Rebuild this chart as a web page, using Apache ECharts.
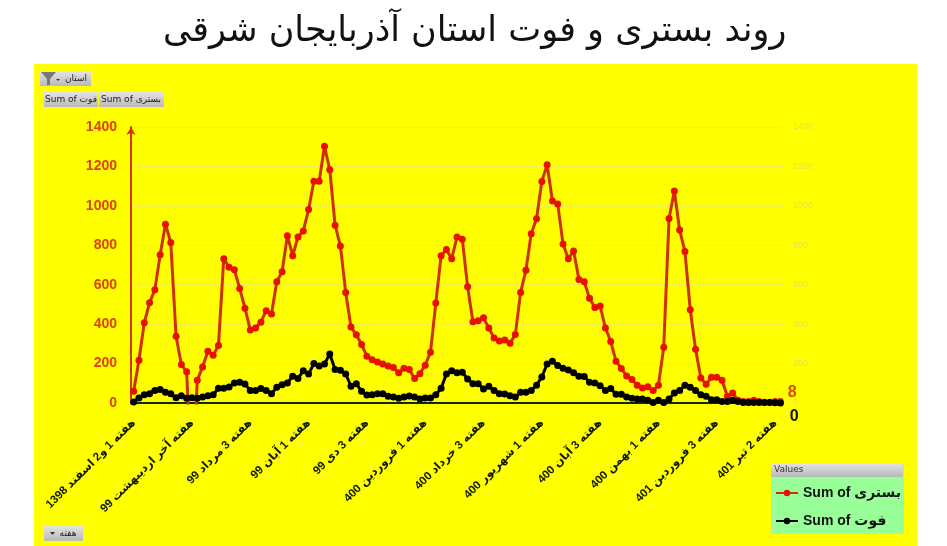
<!DOCTYPE html>
<html><head><meta charset="utf-8">
<style>html,body{margin:0;padding:0;background:#fff}#c{width:947px;height:546px}</style>
<script src="https://cdn.jsdelivr.net/npm/echarts@6/dist/echarts.min.js"></script>
</head><body><div id="c"></div>
<script>
const tickLabels = ["هفته 1 و2 اسفند 1398","هفته آخر اردیبهشت 99","هفته 3 مرداد 99","هفته 1 آبان 99","هفته 3 دی 99","هفته 1 فروردین 400","هفته 3 خرداد 400","هفته 1 شهریور 400","هفته 3 آبان 400","هفته 1 بهمن 400","هفته 3 فروردین 401","هفته 2 تیر 401"];
const hospitalized = [60,217,407,508,575,752,907,814,339,195,158,-450,115,183,263,242,292,732,688,676,581,481,370,381,410,468,451,615,666,849,747,842,873,981,1125,1125,1302,1183,902,797,561,385,346,297,237,220,208,198,188,180,153,176,170,124,149,192,258,507,747,778,732,842,831,590,412,417,432,380,330,315,319,303,347,561,673,859,934,1124,1209,1025,1009,807,732,771,627,615,531,485,492,381,312,212,175,137,119,90,76,83,63,90,283,936,1075,878,768,473,273,127,95,130,130,115,34,51,14,7,7,14,7,4,4,7,8];
const deaths = [5,25,42,47,64,68,54,47,27,37,24,27,24,30,37,42,75,75,81,102,105,97,63,63,73,64,47,80,93,102,136,124,164,147,200,188,198,249,170,166,147,85,98,59,41,42,47,47,34,30,24,30,36,30,20,25,25,42,75,147,163,154,156,122,98,98,71,85,63,47,46,37,30,54,54,64,90,132,198,212,190,176,168,153,136,134,105,102,88,64,73,44,44,30,24,20,20,14,3,14,3,20,51,63,90,80,64,42,34,17,17,8,8,14,8,3,3,3,2,2,2,1,0];
const yTicks = {min:0,max:1400,step:200};
const labelEvery = 11;
const seriesNames = ["Sum of بستری","Sum of فوت"];
const titleText = "روند بستری و فوت استان آذربایجان شرقی";

const categories = hospitalized.map((_,i)=> i%labelEvery===0 ? tickLabels[i/labelEvery] : "");
const FF = '"Liberation Sans","DejaVu Sans",sans-serif';
const endLabel = (arr,color,offset)=>arr.map((v,i)=> i===arr.length-1 ? {value:v,label:{show:true,position:'right',offset,color,fontSize:16,fontWeight:'bold',fontFamily:FF}} : v);
const grad = {type:'linear',x:0,y:0,x2:0,y2:1,colorStops:[{offset:0,color:'#E4E4E4'},{offset:1,color:'#B8B8B8'}]};
const btn = (x,y,w,h,text,tx)=>[
  {type:'rect',z:-1,shape:{x,y,width:w,height:h},style:{fill:grad}},
  {type:'text',z:5,style:{x:tx,y:y+h/2,text,fill:'#222',font:'9px "DejaVu Sans"',align:'center',verticalAlign:'middle'}}
];
const plain = v=>String(v);
const chart = echarts.init(document.getElementById('c'),null,{renderer:'canvas'});
chart.setOption({
  animation:false,
  backgroundColor:'#fff',
  title:{text:titleText,left:163,top:14,padding:0,textStyle:{fontFamily:'"DejaVu Sans"',fontWeight:'normal',fontSize:35,color:'#111'}},
  grid:{left:131,top:127,width:652,height:276,containLabel:false},
  legend:{show:true,orient:'vertical',left:775,top:486,padding:0,itemGap:14,itemWidth:22,itemHeight:8,
    data:seriesNames,textStyle:{fontFamily:FF,fontWeight:'bold',fontSize:14,color:'#111'}},
  xAxis:{type:'category',data:categories,boundaryGap:true,
    axisLine:{onZero:false,lineStyle:{color:'#0c2a10',width:2}},axisTick:{show:false},splitLine:{show:false},
    axisLabel:{interval:labelEvery-1,rotate:45,margin:18,fontFamily:FF,fontWeight:'bold',fontSize:11.5,color:'#111a00'}},
  yAxis:[
    {type:'value',min:yTicks.min,max:yTicks.max,interval:yTicks.step,
     axisLine:{show:true,symbol:['none','arrow'],symbolSize:[7,8],lineStyle:{color:'#D03800',width:2}},axisTick:{show:false},
     splitLine:{lineStyle:{color:'#EFEF4A',width:1}},
     axisLabel:{margin:14,formatter:plain,fontFamily:FF,fontWeight:'bold',fontSize:14,color:'#E04000'}},
    {type:'value',min:yTicks.min,max:yTicks.max,interval:yTicks.step,position:'right',
     axisLine:{show:false},axisTick:{show:false},splitLine:{show:false},
     axisLabel:{margin:10,formatter:plain,fontFamily:FF,fontSize:9,color:'#E6E04A'}}
  ],
  series:[
    {name:seriesNames[0],type:'line',yAxisIndex:0,clip:true,showAllSymbol:true,data:endLabel(hospitalized,'#D84A00',[-1,-9]),symbol:'circle',symbolSize:7,
     lineStyle:{color:'#D03000',width:3},itemStyle:{color:'#E81000'}},
    {name:seriesNames[1],type:'line',yAxisIndex:1,clip:false,showAllSymbol:true,data:endLabel(deaths,'#111',[1,14]),symbol:'circle',symbolSize:7,
     lineStyle:{color:'#000',width:3},itemStyle:{color:'#000'}}
  ],
  graphic:{elements:[
    {type:'rect',z:-3,shape:{x:34,y:64,width:883,height:482},style:{fill:'#FFFF00'}},
    ...btn(40,71,51,15,"استان",76),
    {type:'polygon',z:5,shape:{points:[[41,72],[56,72],[50,79],[50,85],[47,85],[47,79]]},style:{fill:'#777'}},
    {type:'polygon',z:5,shape:{points:[[56,79],[60,79],[58,81]]},style:{fill:'#333'}},
    ...btn(44,92,54,15,"Sum of فوت",71),
    ...btn(99,92,65,15,"Sum of بستری",131),
    ...btn(44,526,39,15,"هفته",68),
    {type:'polygon',z:5,shape:{points:[[50,532],[55,532],[52.5,535]]},style:{fill:'#333'}},
    {type:'rect',z:-2,shape:{x:771,y:463,width:133,height:71},style:{fill:'#99FF99'}},
    {type:'rect',z:-1,shape:{x:771,y:463,width:132,height:14},style:{fill:grad}},
    {type:'text',z:5,style:{x:774,y:470,text:"Values",fill:'#333',font:'9px "DejaVu Sans"',verticalAlign:'middle'}}
  ]}
});
</script></body></html>
